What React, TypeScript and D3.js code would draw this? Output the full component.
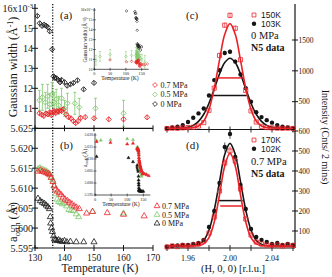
import { useEffect, useRef } from "react";
import * as d3 from "d3";

const RED = "#ea2228";
const GREEN = "#80c86c";
const INK = "#151515";
const SERIF = "'Liberation Serif', 'Times New Roman', serif";
const SANS = "'Liberation Sans', Arial, sans-serif";

// (a) Gaussian width (x1e-3 1/A) vs T : [T, width, err]
const widthP07 = [
  [131.5, 10.75, 0.12], [132.3, 10.68, 0.12], [133.0, 10.62, 0.12], [133.7, 10.74, 0.12],
  [134.4, 10.7, 0.12], [135.0, 10.8, 0.12], [135.5, 10.66, 0.12], [136.0, 10.8, 0.12],
  [136.5, 10.86, 0.12], [137.0, 10.76, 0.12], [137.5, 10.86, 0.12], [138.0, 10.84, 0.12],
  [138.5, 10.9, 0.12], [139.0, 10.86, 0.12], [139.6, 10.95, 0.12], [140.5, 10.7, 0.12],
  [141.3, 10.56, 0.12], [142.2, 10.5, 0.12], [143.0, 10.36, 0.12], [143.8, 10.26, 0.12],
  [144.6, 10.36, 0.12], [145.5, 10.52, 0.12], [147.0, 10.56, 0.12], [150.0, 10.5, 0.12],
  [155.0, 10.45, 0.12], [160.0, 10.45, 0.12], [168.0, 10.55, 0.12],
];
const widthP05 = [
  [131.5, 11.4, 0.5], [132.5, 11.55, 0.65], [133.5, 11.3, 0.5], [134.3, 11.6, 0.6],
  [135.0, 11.2, 0.55], [135.8, 11.7, 0.6], [136.5, 11.3, 0.5], [137.2, 11.45, 0.5],
  [138.0, 11.15, 0.45], [139.0, 11.5, 0.5], [140.0, 11.0, 0.4], [141.0, 11.25, 0.5],
  [143.5, 11.25, 0.55], [145.0, 11.05, 0.45], [150.5, 11.0, 0.5], [160.0, 10.75, 0.65],
];
const widthP0 = [
  [130.8, 15.62, 0.1], [131.6, 15.25, 0.1], [132.4, 15.12, 0.1], [133.1, 15.18, 0.1],
  [133.8, 15.12, 0.1], [134.4, 15.05, 0.1], [135.0, 14.85, 0.1], [135.8, 13.95, 0.1],
  [136.3, 12.6, 0.1], [136.7, 12.52, 0.1], [137.3, 12.5, 0.1], [137.9, 12.42, 0.1],
  [138.5, 12.3, 0.1], [139.0, 12.42, 0.1], [140.0, 12.3, 0.1], [140.9, 12.13, 0.1],
  [142.0, 12.2, 0.1], [143.0, 12.27, 0.1], [144.4, 12.4, 0.1], [146.5, 11.95, 0.1],
  [150.0, 12.27, 0.1],
];
// low temperature points only shown in inset (a)
const widthInsetP07 = [[50, 10.95, 0.15], [102, 10.75, 0.15], [118, 10.8, 0.15]];
const widthInsetP05 = [[5, 10.9, 0.5], [18, 11.3, 0.5], [50, 11.5, 0.5], [100, 11.3, 0.5], [118, 11.4, 0.5]];
const widthInsetP0 = [[102, 15.9, 0.1], [128.5, 15.85, 0.1], [129.5, 15.7, 0.1]];

// (b) a_orth (A) vs T : [T, a]
const aP07 = [
  [131.0, 5.6142], [131.8, 5.6145], [132.5, 5.6142], [133.2, 5.614], [133.9, 5.6138],
  [134.5, 5.6136], [135.0, 5.6133], [135.5, 5.6126], [136.1, 5.6116], [136.5, 5.6105],
  [137.0, 5.6097], [137.6, 5.6092], [138.2, 5.6088], [138.9, 5.6083], [139.5, 5.6077],
  [140.2, 5.6072], [141.0, 5.6068], [141.7, 5.6064], [142.5, 5.606], [143.3, 5.6055],
  [144.0, 5.6052], [145.0, 5.6048], [147.5, 5.6037], [149.5, 5.6041], [154.5, 5.6038],
  [160.0, 5.6034], [167.0, 5.603],
];
const aP05 = [
  [131.0, 5.6148], [131.7, 5.615], [132.4, 5.6147], [133.0, 5.6145], [133.7, 5.6143],
  [134.3, 5.614], [134.9, 5.6136], [135.5, 5.6128], [136.0, 5.612], [136.5, 5.6106],
  [137.0, 5.6085], [137.5, 5.6072], [138.0, 5.6066], [138.6, 5.6064], [139.3, 5.606],
  [140.0, 5.6062], [140.7, 5.6055], [141.5, 5.6046], [142.2, 5.6044], [143.0, 5.6043],
  [144.0, 5.6035], [144.8, 5.6028], [149.5, 5.6041], [160.0, 5.6037],
];
const aP0 = [
  [131.0, 5.6074], [131.8, 5.6068], [132.5, 5.6064], [133.2, 5.6061], [133.8, 5.6057],
  [134.4, 5.6053], [134.9, 5.6048], [135.2, 5.6028], [135.3, 5.6012], [135.6, 5.6],
  [135.9, 5.5991], [136.3, 5.598], [136.6, 5.5972], [137.0, 5.597], [137.5, 5.5968],
  [138.0, 5.597], [138.6, 5.5967], [139.3, 5.5966], [140.0, 5.5968], [140.8, 5.5965],
  [142.0, 5.5966], [144.0, 5.5965], [146.5, 5.5965], [150.0, 5.5965],
];
const aInsetP07 = [[5, 5.6172], [48, 5.6168], [100, 5.6162], [118, 5.6165]];
const aInsetP05 = [[5, 5.6177], [18, 5.6178], [48, 5.618], [100, 5.6184], [118, 5.618]];
const aInsetP0 = [[5, 5.611], [104, 5.6105], [118, 5.6088]];

// (c),(d) scans along (H,0,0)
const hSteps = [
  1.94, 1.945, 1.95, 1.955, 1.96, 1.965, 1.97, 1.975, 1.98, 1.985, 1.99, 1.995, 2.0,
  2.005, 2.01, 2.015, 2.02, 2.025, 2.03, 2.035, 2.04, 2.045, 2.05, 2.055, 2.06,
];
const cnt150K = [65, 70, 68, 75, 80, 85, 105, 160, 360, 720, 1250, 1740, 1900, 1690, 1180, 680, 350, 170, 100, 80, 75, 70, 68, 70, 65];
const cnt103K = [70, 80, 95, 120, 170, 240, 310, 390, 600, 850, 1010, 1290, 1310, 1150, 940, 720, 500, 330, 250, 200, 160, 120, 95, 80, 70];
const cnt170K = [20, 25, 22, 28, 25, 30, 35, 50, 90, 170, 300, 440, 500, 450, 310, 160, 80, 45, 35, 30, 28, 30, 25, 30, 28];
const cnt102K = [22, 25, 28, 30, 30, 35, 40, 55, 120, 200, 340, 520, 585, 470, 330, 210, 110, 70, 55, 45, 35, 40, 30, 35, 30];

// fitted gaussians, sampled
const fitH = [1.94, 1.95, 1.96, 1.965, 1.97, 1.975, 1.98, 1.985, 1.99, 1.995, 2.0, 2.005, 2.01, 2.015, 2.02, 2.025, 2.03, 2.035, 2.04, 2.05, 2.06];
const fit150K = [70, 70, 72, 79, 106, 186, 375, 716, 1173, 1592, 1765, 1592, 1173, 716, 375, 186, 106, 79, 72, 70, 70];
const fit103K = [65, 67, 84, 115, 180, 296, 475, 707, 949, 1134, 1205, 1134, 949, 707, 475, 296, 180, 115, 84, 67, 65];
const fit170K = [25, 25, 25, 26, 27, 36, 67, 145, 280, 425, 490, 425, 280, 145, 67, 36, 27, 26, 25, 25, 25];
const fit102K = [25, 25, 26, 27, 33, 53, 105, 205, 347, 482, 538, 482, 347, 205, 105, 53, 33, 27, 26, 25, 25];
// FWHM markers: [h1, h2, level]
const fwhm150K = [1.9879, 2.0121, 885];
const fwhm103K = [1.984, 2.016, 598];
const fwhm170K = [1.9907, 2.0112, 225];
const fwhm102K = [1.9884, 2.0121, 252];

const widthTicks = [11, 12, 13, 14, 15];
const aTicks = [5.595, 5.6, 5.605, 5.61, 5.615, 5.62, 5.625];
const tempTicks = [130, 140, 150, 160, 170];
const hLabelTicks = [1.96, 2.0, 2.04];
const hMinorTicks = [1.94, 1.96, 1.98, 2.0, 2.02, 2.04, 2.06];
const cTicks = [500, 1000, 1500];
const dTicks = [100, 200, 300, 400, 500, 600];
const insetTempTicks = [0, 50, 100, 150];
const insetWidthTicks = [10, 11, 12, 13, 14, 15, 16];
const insetATicks = [5.595, 5.6, 5.605, 5.61, 5.615, 5.62];
const pressures = ["0.7 MPa", "0.5 MPa", "0 MPa"];

export default function App() {
  const ref = useRef<SVGSVGElement>(null);

  useEffect(() => {
    const svg = d3.select(ref.current);
    svg.selectAll("*").remove();

    const xT = d3.scaleLinear().domain([130, 170]).range([35, 153]);
    const yW = d3.scaleLinear().domain([10, 16]).range([128.3, 8.3]);
    const yA = d3.scaleLinear().domain([5.595, 5.625]).range([248, 128.3]);
    const xH = d3.scaleLinear().domain([2.0, 2.04]).range([230, 272]);
    const yC = d3.scaleLinear().domain([0, 1500]).range([132.5, 40]);
    const yD = d3.scaleLinear().domain([0, 600]).range([251, 131]);
    const xIa = d3.scaleLinear().domain([0, 150]).range([94.3, 141.7]);
    const yIa = d3.scaleLinear().domain([10, 16]).range([69.3, 10]);
    const xIb = d3.scaleLinear().domain([0, 150]).range([95, 143.3]);
    const yIb = d3.scaleLinear().domain([5.595, 5.62]).range([195, 135]);

    const ln = (x1: number, y1: number, x2: number, y2: number, w = 1, c = INK) =>
      svg.append("line").attr("x1", x1).attr("y1", y1).attr("x2", x2).attr("y2", y2)
        .attr("stroke", c).attr("stroke-width", w);
    const txt = (x: number, y: number, s: string, size: number, anchor = "start", family = SERIF) =>
      svg.append("text").attr("x", x).attr("y", y).attr("font-size", size)
        .attr("font-family", family).attr("text-anchor", anchor).attr("fill", INK).text(s);

    const diamond = (r: number) => `M0,${-r}L${r},0L0,${r}L${-r},0Z`;
    const tri = d3.symbol().type(d3.symbolTriangle);
    const sq = d3.symbol().type(d3.symbolSquare);

    // ---------- left panels axes ----------
    ln(35, 4, 35, 248, 1.2);
    ln(35, 248, 153, 248, 1.2);
    ln(35, 128.3, 153, 128.3, 1.2);
    tempTicks.forEach(t => {
      ln(xT(t), 245, xT(t), 251, 1);
      ln(xT(t), 125.3, xT(t), 131.3, 1);
      txt(xT(t), 260.5, String(t), 9.5, "middle");
    });
    widthTicks.forEach(v => {
      ln(32, yW(v), 38, yW(v), 1);
      txt(33, yW(v) + 3.5, String(v), 10, "end");
    });
    ln(32, yW(16), 38, yW(16), 1);
    const top = txt(33, yW(16) + 3.5, "16x10", 10, "end");
    top.append("tspan").attr("dy", -4).attr("font-size", 6.5).text("-3");
    aTicks.forEach(v => {
      ln(32, yA(v), 38, yA(v), 1);
      txt(33, yA(v) + 3.5, d3.format(".3f")(v), 10, "end");
    });

    // axis titles
    const gw = svg.append("text").attr("transform", "translate(17,67) rotate(-90)")
      .attr("text-anchor", "middle").attr("font-family", SERIF).attr("font-size", 12).attr("fill", INK)
      .text("Gaussian width (Å");
    gw.append("tspan").attr("dy", -4).attr("font-size", 8).text("-1");
    gw.append("tspan").attr("dy", 4).text(")");
    const ao = svg.append("text").attr("transform", "translate(17,222) rotate(-90)")
      .attr("text-anchor", "middle").attr("font-family", SERIF).attr("font-size", 12.5).attr("fill", INK)
      .text("a");
    ao.append("tspan").attr("dy", 3).attr("font-size", 8.5).text("orth");
    ao.append("tspan").attr("dy", -3).text(" (Å)");
    txt(100, 272, "Temperature (K)", 11.5, "middle");

    // dotted transition line
    ln(xT(136), 4, xT(136), 248, 1.3).attr("stroke-dasharray", "1.2 1.6");

    txt(60, 19, "(a)", 11);
    txt(60, 149, "(b)", 11);

    // ---------- panel (a) data ----------
    const drawWidth = (data: number[][], color: string, cap: number) => {
      data.forEach(([t, v, e]) => {
        const x = xT(t);
        ln(x, yW(v - e), x, yW(v + e), 0.8, color);
        if (cap) {
          ln(x - cap, yW(v - e), x + cap, yW(v - e), 0.8, color);
          ln(x - cap, yW(v + e), x + cap, yW(v + e), 0.8, color);
        }
      });
      svg.append("g").selectAll("path").data(data).enter().append("path")
        .attr("d", diamond(2.6))
        .attr("transform", d => `translate(${xT(d[0])},${yW(d[1])})`)
        .attr("fill", "none").attr("stroke", color).attr("stroke-width", 0.9);
    };
    drawWidth(widthP05, GREEN, 1.5);
    drawWidth(widthP0, INK, 0);
    drawWidth(widthP07, RED, 0);

    // ---------- panel (b) data ----------
    const drawA = (data: number[][], color: string) => {
      svg.append("g").selectAll("path").data(data).enter().append("path")
        .attr("d", tri.size(16)())
        .attr("transform", d => `translate(${xT(d[0])},${yA(d[1])})`)
        .attr("fill", "none").attr("stroke", color).attr("stroke-width", 0.8);
    };
    drawA(aP0, INK);
    drawA(aP05, GREEN);
    drawA(aP07, RED);

    // legends (a),(b)
    const legColors = [RED, GREEN, INK];
    pressures.forEach((p, i) => {
      const y = 85 + i * 9.5;
      svg.append("path").attr("d", diamond(2.4)).attr("transform", `translate(155,${y})`)
        .attr("fill", "none").attr("stroke", legColors[i]).attr("stroke-width", 0.8);
      txt(160.5, y + 2.8, p, 8);
      const yb = 206 + i * 8.7;
      svg.append("path").attr("d", tri.size(14)()).attr("transform", `translate(157,${yb})`)
        .attr("fill", "none").attr("stroke", legColors[i]).attr("stroke-width", 0.8);
      txt(162, yb + 2.8, p, 8);
    });

    // ---------- inset (a) ----------
    ln(xIa(0), 8, xIa(0), yIa(10), 0.7);
    ln(xIa(0), yIa(10), xIa(172), yIa(10), 0.7);
    insetTempTicks.forEach(t => {
      ln(xIa(t), yIa(10) - 1.5, xIa(t), yIa(10) + 1.5, 0.6);
      txt(xIa(t), yIa(10) + 5.5, String(t), 4.2, "middle");
    });
    insetWidthTicks.forEach(v => {
      ln(xIa(0) - 1.5, yIa(v), xIa(0) + 1.5, yIa(v), 0.6);
      txt(xIa(0) - 2, yIa(v) + 1.4, v === 16 ? "16x10⁻³" : String(v), 3.8, "end");
    });
    txt(120, 79.5, "Temperature (K)", 5.6, "middle");
    svg.append("text").attr("transform", "translate(86.5,40) rotate(-90)")
      .attr("text-anchor", "middle").attr("font-family", SERIF).attr("font-size", 5.3).attr("fill", INK)
      .text("Gaussian width (Å⁻¹)");
    const drawInsetW = (data: number[][], color: string, cap: number) => {
      data.forEach(([t, v, e]) => {
        if (cap) {
          ln(xIa(t), yIa(v - e), xIa(t), yIa(v + e), 0.5, color);
          ln(xIa(t) - 1, yIa(v - e), xIa(t) + 1, yIa(v - e), 0.5, color);
          ln(xIa(t) - 1, yIa(v + e), xIa(t) + 1, yIa(v + e), 0.5, color);
        }
        svg.append("path").attr("d", diamond(1.3))
          .attr("transform", `translate(${xIa(t)},${yIa(v)})`)
          .attr("fill", "none").attr("stroke", color).attr("stroke-width", 0.6);
      });
    };
    drawInsetW([...widthInsetP05, ...widthP05], GREEN, 1);
    drawInsetW([...widthInsetP0, ...widthP0], INK, 0);
    drawInsetW([...widthInsetP07, ...widthP07], RED, 0);

    // ---------- inset (b) ----------
    ln(xIb(0), 133, xIb(0), yIb(5.595), 0.7);
    ln(xIb(0), yIb(5.595), xIb(172), yIb(5.595), 0.7);
    insetTempTicks.forEach(t => {
      ln(xIb(t), yIb(5.595) - 1.5, xIb(t), yIb(5.595) + 1.5, 0.6);
      txt(xIb(t), yIb(5.595) + 5.5, String(t), 4.2, "middle");
    });
    insetATicks.forEach(v => {
      ln(xIb(0) - 1.5, yIb(v), xIb(0) + 1.5, yIb(v), 0.6);
      txt(xIb(0) - 2, yIb(v) + 1.4, d3.format(".3f")(v), 3.8, "end");
    });
    txt(121, 206, "Temperature (K)", 5.6, "middle");
    const ai = svg.append("text").attr("transform", "translate(87,158) rotate(-90)")
      .attr("text-anchor", "middle").attr("font-family", SERIF).attr("font-size", 5.6).attr("fill", INK)
      .text("a");
    ai.append("tspan").attr("dy", 1.4).attr("font-size", 4).text("orth");
    ai.append("tspan").attr("dy", -1.4).text(" (Å)");
    const drawInsetA = (data: number[][], color: string) => {
      svg.append("g").selectAll("path").data(data).enter().append("path")
        .attr("d", tri.size(4.5)())
        .attr("transform", d => `translate(${xIb(d[0])},${yIb(d[1])})`)
        .attr("fill", color).attr("stroke", color).attr("stroke-width", 0.4);
    };
    drawInsetA([...aInsetP0, ...aP0], INK);
    drawInsetA([...aInsetP05, ...aP05], GREEN);
    drawInsetA([...aInsetP07, ...aP07], RED);

    // ---------- right panels ----------
    ln(295, 4, 295, 248, 1.2);
    ln(165, 129.5, 295, 129.5, 1.2);
    ln(165, 248, 295, 248, 1.2);
    hMinorTicks.forEach(h => {
      ln(xH(h), 126.5, xH(h), 132.5, 0.9);
      ln(xH(h), 245, xH(h), 251, 0.9);
    });
    hLabelTicks.forEach(h => txt(xH(h), 260.5, h.toFixed(2), 8, "middle"));
    cTicks.forEach(v => {
      ln(292, yC(v), 298, yC(v), 1);
      txt(298.5, yC(v) + 2.8, String(v), 7.5);
    });
    dTicks.forEach(v => {
      ln(292, yD(v), 298, yD(v), 1);
      txt(298.5, yD(v) + 2.8, String(v), 7.5);
    });
    txt(233, 272, "(H, 0, 0) [r.l.u.]", 10.5, "middle");
    svg.append("text").attr("transform", "translate(322,137) rotate(90)")
      .attr("text-anchor", "middle").attr("font-family", SERIF).attr("font-size", 10).attr("fill", INK)
      .text("Intensity (Cnts/ 2 mins)");

    const scan = (counts: number[], fit: number[], fw: number[], yS: d3.ScaleLinear<number, number>, color: string, filled: boolean) => {
      const curve = d3.line<number>().x((_, i) => xH(fitH[i])).y(d => yS(d)).curve(d3.curveCatmullRom);
      counts.forEach((c, i) => {
        const e = Math.sqrt(c);
        ln(xH(hSteps[i]), yS(c - e), xH(hSteps[i]), yS(c + e), 0.7, color);
      });
      if (filled) {
        svg.append("g").selectAll("circle").data(counts).enter().append("circle")
          .attr("cx", (_, i) => xH(hSteps[i])).attr("cy", d => yS(d)).attr("r", 2.2).attr("fill", color);
      } else {
        svg.append("g").selectAll("path").data(counts).enter().append("path")
          .attr("d", sq.size(17)())
          .attr("transform", (d, i) => `translate(${xH(hSteps[i])},${yS(d)})`)
          .attr("fill", "none").attr("stroke", color).attr("stroke-width", 0.8);
      }
      svg.append("path").datum(fit).attr("d", curve).attr("fill", "none")
        .attr("stroke", color).attr("stroke-width", 1.6);
      ln(xH(fw[0]), yS(fw[2]), xH(fw[1]), yS(fw[2]), 1.5, color);
    };
    scan(cnt103K, fit103K, fwhm103K, yC, INK, true);
    scan(cnt150K, fit150K, fwhm150K, yC, RED, false);
    scan(cnt102K, fit102K, fwhm102K, yD, INK, true);
    scan(cnt170K, fit170K, fwhm170K, yD, RED, false);

    txt(186, 19, "(c)", 11);
    txt(186, 149, "(d)", 11);

    // legends (c),(d)
    const legend = (y0: number, hot: string, cold: string, p: string, y1: number) => {
      svg.append("path").attr("d", sq.size(15)()).attr("transform", `translate(254,${y0})`)
        .attr("fill", "none").attr("stroke", RED).attr("stroke-width", 0.8);
      txt(261, y0 + 3, hot, 8.5, "start", SANS);
      svg.append("circle").attr("cx", 254).attr("cy", y0 + 8.8).attr("r", 2.2).attr("fill", INK);
      txt(261, y0 + 11.8, cold, 8.5, "start", SANS);
      txt(251, y1, p, 10.5);
      txt(251, y1 + 12, "N5 data", 10).attr("font-weight", "bold");
    };
    legend(15, "150K", "103K", "0 MPa", 39);
    legend(140, "170K", "102K", "0.7 MPa", 165);
  }, []);

  return (
    <svg ref={ref} width={332} height={277}
      style={{ position: "absolute", left: 0, top: 0, background: "#fff" }} />
  );
}
